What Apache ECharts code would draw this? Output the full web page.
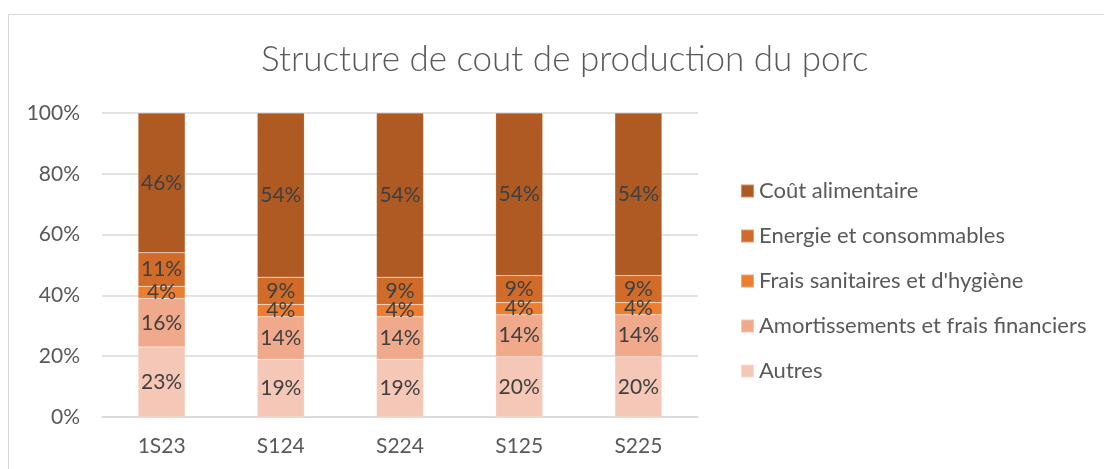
<!DOCTYPE html>
<html><head><meta charset="utf-8">
<script src="https://cdn.jsdelivr.net/npm/echarts@6/dist/echarts.min.js"></script>
<style>html,body{margin:0;padding:0;background:#fff}#c{width:1104px;height:469px}</style>
</head><body><div id="c"></div>
<script>
var categories = ['1S23', 'S124', 'S224', 'S125', 'S225'];
var autres = [23, 19, 19, 20, 20];
var amortissements = [16, 14, 14, 14, 14];
var fraisSanitaires = [4, 4, 4, 4, 4];
var energie = [11, 9, 9, 9, 9];
var coutAlimentaire = [46, 54, 54, 54, 54];
var yTicks = [0, 20, 40, 60, 80, 100];

var seriesDefs = [
  {name: 'Autres', values: autres, color: '#F4C7B6'},
  {name: 'Amortissements et frais financiers', values: amortissements, color: '#F0A98A'},
  {name: "Frais sanitaires et d'hygiène", values: fraisSanitaires, color: '#ED7D31'},
  {name: 'Energie et consommables', values: energie, color: '#D06B2A'},
  {name: 'Coût alimentaire', values: coutAlimentaire, color: '#AF5A22'}
];
var totals = categories.map(function(_, i){
  return seriesDefs.reduce(function(s, d){ return s + d.values[i]; }, 0);
});
var FONT = 'Lato';
var chart = echarts.init(document.getElementById('c'));
chart.setOption({
  animation: false,
  textStyle: {fontFamily: FONT},
  title: {text: 'Structure de cout de production du porc', left: 256, top: 37,
    textStyle: {fontFamily: FONT, fontWeight: 300, fontSize: 35, color: '#595959'}},
  graphic: [{type: 'rect', shape: {x: 8.5, y: 14.5, width: 1200, height: 500},
    style: {fill: 'none', stroke: '#d9d9d9', lineWidth: 1}, silent: true}],
  legend: {orient: 'vertical', left: 735, top: 175, itemGap: 23, itemWidth: 13, itemHeight: 13,
    icon: 'rect', textStyle: {fontFamily: FONT, fontSize: 22, color: '#595959'},
    data: seriesDefs.map(function(d){ return d.name; }).reverse()},
  grid: {left: 102, right: 406, top: 113, bottom: 52},
  xAxis: {type: 'category', data: categories,
    axisLine: {lineStyle: {color: '#d9d9d9', width: 1.5}}, axisTick: {show: false},
    axisLabel: {fontFamily: FONT, fontSize: 21, color: '#595959', margin: 19}},
  yAxis: {type: 'value', min: yTicks[0], max: yTicks[yTicks.length-1], interval: 20,
    axisLine: {show: false}, axisTick: {show: false},
    axisLabel: {fontFamily: FONT, fontSize: 21, color: '#595959', margin: 22, formatter: '{value}%'},
    splitLine: {lineStyle: {color: '#d9d9d9', width: 1.5}}},
  series: seriesDefs.map(function(d){
    return {name: d.name, type: 'bar', stack: 'tot', barWidth: '39.5%',
      itemStyle: {color: d.color, borderColor: 'rgba(255,255,255,0.35)', borderWidth: 0.5},
      label: {show: true, position: 'inside', fontFamily: FONT, fontSize: 21, color: '#404040',
        formatter: function(p){ return d.values[p.dataIndex] + '%'; }},
      data: d.values.map(function(v, i){ return v / totals[i] * 100; })};
  })
});
</script></body></html>
